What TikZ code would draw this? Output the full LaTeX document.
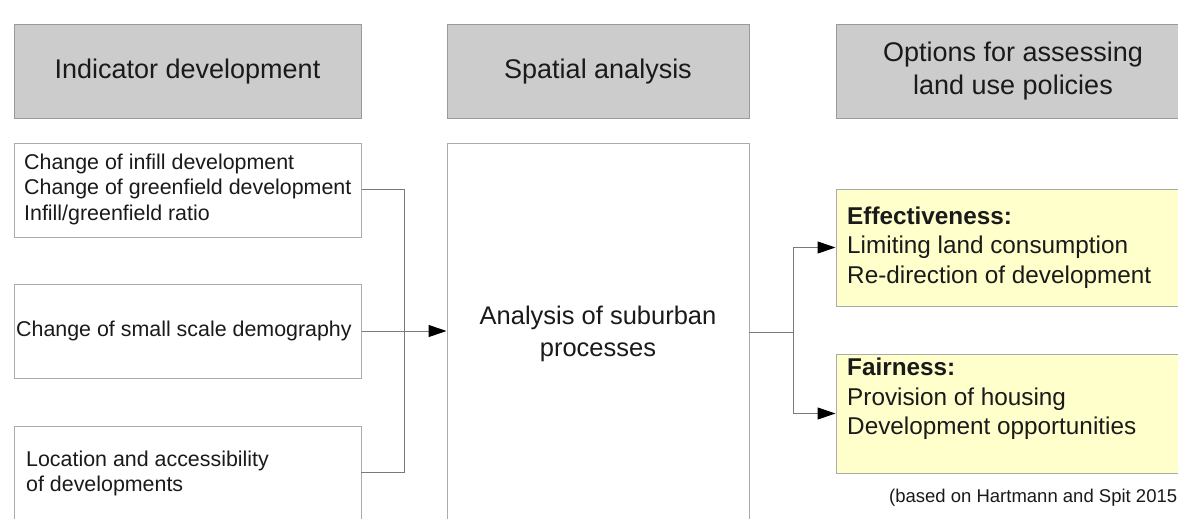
\documentclass[tikz,border=0pt]{standalone}
\usepackage{fontspec}
\setmainfont{Liberation Sans}
\usetikzlibrary{arrows.meta}
\definecolor{hdrfill}{HTML}{CCCCCC}
\definecolor{hdrline}{HTML}{9A9A9A}
\definecolor{boxline}{HTML}{ABABAB}
\definecolor{yelfill}{HTML}{FFFFCC}
\definecolor{conn}{HTML}{7A7A7A}
\definecolor{txt}{HTML}{1A1A1A}
\tikzset{
  header/.style={draw=hdrline, fill=hdrfill, line width=1pt, inner sep=0pt, align=center, text=txt,
    font=\fontsize{27}{33}\selectfont},
  whitebox/.style={draw=boxline, fill=white, line width=1pt, inner sep=0pt},
  yelbox/.style={draw=boxline, fill=yelfill, line width=1pt, inner sep=0pt},
  lefttext/.style={inner sep=0pt, anchor=west, align=left, text=txt, font=\fontsize{21.4}{25.5}\selectfont},
  righttext/.style={inner sep=0pt, anchor=west, align=left, text=txt, font=\fontsize{24.3}{29.5}\selectfont},
  connector/.style={draw=conn, line width=1pt},
  arrowconn/.style={connector, -{Triangle[length=18pt,width=12pt,fill=black,color=black]}}
}
\begin{document}
\begin{tikzpicture}[x=1pt,y=-1pt]
\useasboundingbox (0,0) rectangle (1178,519);
\clip (0,0) rectangle (1178,519);
\fill[white] (0,0) rectangle (1178,519);
% headers
\node[header, minimum width=347pt, minimum height=93pt] (h1) at (187.5,71.5) {Indicator development};
\node[header, minimum width=302pt, minimum height=93pt] (h2) at (598,71.5) {Spatial analysis};
\node[header, minimum width=354pt, minimum height=93pt] (h3) at (1013,71.5) {Options for assessing\\land use policies};
% left boxes
\node[whitebox, minimum width=347pt, minimum height=94pt] (b1) at (187.5,190) {};
\node[lefttext] (t1) at (24,189) {Change of infill development\\Change of greenfield development\\Infill/greenfield ratio};
\node[whitebox, minimum width=347pt, minimum height=94pt] (b2) at (187.5,331) {};
\node[lefttext] (t2) at (16,331) {Change of small scale demography};
\node[whitebox, minimum width=347pt, minimum height=114pt] (b3) at (187.5,483) {};
\node[lefttext] (t3) at (26,473.5) {Location and accessibility\\of developments};
% middle box
\node[whitebox, minimum width=302pt, minimum height=397pt] (m) at (598,341.5) {};
\node[inner sep=0pt, align=center, text=txt, font=\fontsize{25.5}{32}\selectfont] (mt) at (598,334) {Analysis of suburban\\processes};
% right boxes
\node[yelbox, minimum width=354pt, minimum height=117pt] (e) at (1013,247.5) {};
\node[righttext] (et) at (847,247.5) {\textbf{Effectiveness:}\\Limiting land consumption\\Re-direction of development};
\node[yelbox, minimum width=354pt, minimum height=119pt] (f) at (1013,413.5) {};
\node[righttext] (ft) at (847,399) {\textbf{Fairness:}\\Provision of housing\\Development opportunities};
% caption
\node[inner sep=0pt, anchor=west, text=txt, font=\fontsize{18.5}{22}\selectfont] (cap) at (889,498) {(based on Hartmann and Spit 2015};
% connectors
\coordinate (j1) at (404,189);
\coordinate (j3) at (404,472);
\coordinate (b3e) at (361,472);
\draw[connector] (b1.east |- j1) -- (j1) -- (j3) -- (b3e);
\draw[arrowconn] (b2.east) -- (b2.east -| m.west);
\coordinate (mr) at (749,332);
\coordinate (sp) at (793,332);
\coordinate (st) at (793,247.5);
\coordinate (sb) at (793,413.5);
\draw[connector] (mr) -- (sp);
\draw[connector] (st) -- (sb);
\draw[arrowconn] (st) -- (e.west);
\draw[arrowconn] (sb) -- (f.west);
\end{tikzpicture}
\end{document}
